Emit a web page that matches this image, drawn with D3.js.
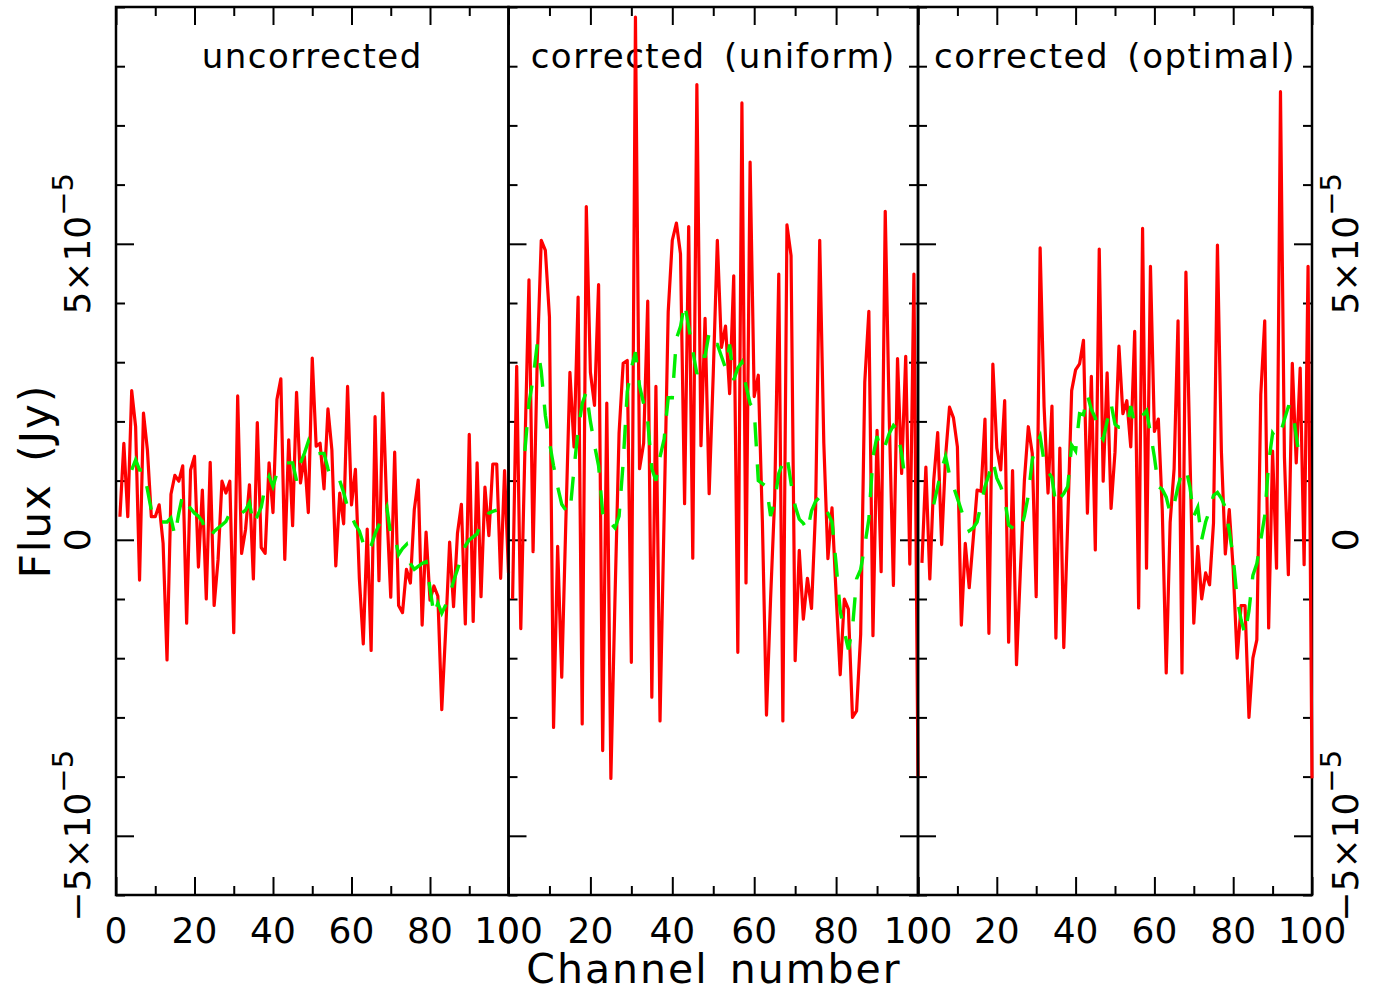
<!DOCTYPE html>
<html>
<head>
<meta charset="utf-8">
<script src="https://cdn.jsdelivr.net/npm/d3@7"></script>
<style>
  body { margin: 0; background: #fff; }
  svg { display: block; }
  text { font-family: "DejaVu Sans", sans-serif; fill: #000; }
</style>
</head>
<body>
<svg id="chart" width="1377" height="989"></svg>
<script>
// flux values are in units of 1e-5 Jy
var channels = d3.range(1, 101)
var smoothChannels = d3.range(4, 98)

var panelTitles = ['uncorrected', 'corrected (uniform)', 'corrected (optimal)']
var xTicksMajor = [0, 20, 40, 60, 80, 100]
var xTicksMinor = [10, 30, 50, 70, 90]
var yTicksMajor = [-5, 0, 5]
var yTicksMinor = [-6, -4, -3, -2, -1, 1, 2, 3, 4, 6, 7, 8, 9]
var yTickLabels = [[5, '5×10', '−5'], [0, '0', ''], [-5, '−5×10', '−5']]

var fluxUncorrected = [
  0.39, 1.63, 0.39, 2.52, 1.91, -0.68, 2.14, 1.52, 0.39, 0.39,
  0.59, -0.06, -2.03, 0.77, 1.09, 0.99, 1.25, -1.41, 1.18, 1.41,
  -0.46, 0.84, -1.0, 1.31, -1.11, -0.34, 0.99, 0.79, 0.99, -1.57,
  2.43, -0.23, 0.17, 0.93, -0.66, 1.98, -0.13, -0.23, 1.3, 0.46,
  2.37, 2.72, -0.33, 1.69, 0.24, 2.49, 0.96, 1.41, 0.46, 3.07,
  1.58, 1.63, 0.86, 2.21, 1.52, -0.44, 0.79, 0.27, 2.59, 0.59,
  1.19, -0.65, -1.76, 0.18, -1.87, 2.08, -0.69, 2.48, 0.51, -0.97,
  1.48, -1.11, -1.23, -0.5, -0.73, 0.51, 1.01, -1.44, 0.13, -1.02,
  -0.78, -0.95, -2.87, -1.52, -0.04, -1.13, 0.11, 0.6, -1.42, 1.78,
  -1.38, 1.3, -0.96, 0.89, 0.07, 1.28, 1.28, -0.65, 1.17, -0.56
]
var fluxUniform = [
  -1.0, 2.93, -1.5, 1.5, 4.39, -0.2, 3.0, 5.06, 4.89, 3.76,
  -3.17, -0.11, -2.32, 0.3, 2.83, 1.57, 4.10, -3.11, 5.63, 2.83,
  2.27, 4.31, -3.56, 2.31, -4.03, -1.0, 1.80, 2.98, 3.03, -2.07,
  8.83, 1.2, 1.63, 4.03, -2.66, 2.59, -3.06, 0.4, 3.85, 5.06,
  5.35, 4.83, 0.61, 5.29, -0.31, 7.69, 1.59, 3.74, 0.78, 2.8,
  5.06, 3.25, 3.61, 2.47, 4.46, -1.90, 7.38, -0.73, 6.38, 2.42,
  2.78, 0.3, -2.96, -1.0, 0.7, 4.49, -3.06, 5.32, 4.8, -2.04,
  -0.18, -1.34, -0.65, -1.16, 0.53, 5.06, 1.63, -0.32, 0.54, -0.92,
  -2.28, -1.0, -1.17, -3.0, -2.89, -1.6, 2.66, 3.86, -1.62, 1.85,
  -0.54, 5.55, 2.0, -0.77, 3.06, 1.12, 3.10, -0.41, 4.49, -4.0
]
var fluxOptimal = [
  -0.39, 1.23, -0.66, 1.01, 1.81, -0.08, 1.41, 2.24, 2.06, 1.57,
  -1.44, -0.06, -0.81, 0.0, 0.84, 0.82, 2.04, -1.58, 2.97, 1.55,
  1.18, 2.35, -1.73, 1.17, -2.11, -0.5, 1.0, 1.91, 1.46, -0.96,
  4.93, 2.25, 0.79, 2.26, -1.66, 1.55, -1.82, 0.3, 2.52, 2.87,
  2.97, 3.37, 0.45, 2.76, -0.17, 4.91, 0.99, 2.82, 0.53, 1.48,
  3.27, 2.13, 2.35, 1.57, 3.52, -1.15, 5.26, -0.48, 4.62, 1.83,
  2.04, 0.5, -2.25, 0.3, 1.2, 3.70, -2.25, 4.52, 1.5, -1.41,
  -0.11, -1.0, -0.56, -0.76, 0.28, 4.98, 1.5, -0.24, 0.51, -0.5,
  -2.0, -1.11, -1.11, -3.0, -2.0, -1.69, 2.45, 3.70, -1.49, 1.5,
  -0.48, 7.57, 1.4, -0.59, 2.98, 1.30, 2.9, -0.42, 4.62, -4.03
]

// smoothed spectra, channels 4..97
var smoothUncorrected = [
  1.18, 1.35, 1.18, 1.18, 0.85, 0.5, 0.35, 0.3, 0.3, 0.3,
  0.37, 0.07, 0.45, 0.76, 0.6, 0.53, 0.45, 0.4, 0.31, 0.1,
  0.05, 0.14, 0.2, 0.25, 0.31, 0.45, 0.51, 0.48, 0.45, 0.5,
  0.63, 0.26, 0.4, 0.55, 0.9, 1.07, 0.9, 1.13, 1.24, 1.3,
  1.3, 1.3, 1.0, 1.3, 1.46, 1.66, 1.45, 1.45, 1.46, 1.46,
  1.2, 1.0, 1.0, 1.0, 0.8, 0.55, 0.4, 0.25, 0.15, -0.06,
  -0.21, -0.1, 0.1, 0.25, 0.4, 0.55, 0.08, 0.08, -0.25, -0.15,
  -0.08, -0.4, -0.5, -0.45, -0.4, -0.37, -0.82, -1.27, -1.07, -1.24,
  -1.1, -0.93, -0.7, -0.5, -0.3, -0.1, 0, 0.05, 0.1, 0.3,
  0.35, 0.45, 0.48, 0.5
]
var smoothUniform = [
  1.5, 2.31, 2.72, 3.3, 2.85, 2.1, 1.65, 1.25, 0.9, 0.6,
  0.5, 0.45, 1.2, 1.85, 2.3, 2.5, 2.0, 1.6, 1.25, 0.45,
  0.25, 0.28, 0.2, 0.4, 1.3, 2.5, 2.9, 3.17, 2.6, 2.3,
  2.0, 1.2, 1.0, 1.4, 1.7, 2.4, 2.4, 3.4, 3.6, 4.0,
  3.6, 3.2, 2.8, 3.1, 3.1, 3.5, 3.3, 3.3, 3.1, 2.9,
  3.3, 2.7, 2.9, 3.0, 2.6, 2.3, 2.2, 1.0, 0.95, 0.9,
  0.4, 0.65, 1.12, 1.3, 1.42, 0.95, 0.57, 0.35, 0.28, 0.15,
  0.49, 0.65, 0.72, 0.6, 0.45, 0.3, -0.4, -1.2, -1.55, -1.85,
  -1.5, -0.66, -0.5, -0.1, 0.35, 1.4, 1.75, 1.5, 1.6, 1.8,
  1.93, 1.85, 1.45, 0.95
]
var smoothOptimal = [
  0.6, 0.9, 1.2, 1.41, 1.1, 0.9, 0.7, 0.5, 0.3, 0.15,
  0.2, 0.3, 0.6, 0.9, 1.1, 1.34, 1.04, 0.9, 0.7, 0.25,
  0.2, 0.15, 0.15, 0.4, 0.75, 1.35, 1.6, 1.75, 1.32, 1.15,
  1.05, 0.59, 0.7, 0.78, 0.9, 1.6, 1.5, 2.13, 2.11, 2.45,
  2.2, 2.06, 1.8, 1.7, 2.0, 2.3, 1.95, 1.9, 1.9, 1.89,
  2.26, 1.95, 2.0, 2.1, 2.18, 1.8, 1.4, 0.9, 0.85, 0.72,
  0.45, 0.6, 0.9, 1.15, 1.2, 0.9, 0.4, 0.55, 0.0, 0.3,
  0.5, 0.75, 0.8, 0.7, 0.55, 0.15, -0.3, -1.0, -1.35, -1.6,
  -1.2, -0.6, -0.4, 0.0, 0.4, 1.3, 1.8, 1.7, 1.8, 2.03,
  2.25, 2.24, 1.75, 1.3
]

var rawSeries = [fluxUncorrected, fluxUniform, fluxOptimal]
var smoothSeries = [smoothUncorrected, smoothUniform, smoothOptimal]

var svg = d3.select('#chart')
var edges = [116, 508.5, 918, 1312]
var plotTop = 7
var plotBottom = 895

var y = d3.scaleLinear().domain([-6, 9]).range([plotBottom, plotTop])

var tickLayer = function (g, axis, values, size) {
  g.call(axis.tickValues(values).tickSize(-size).tickFormat(''))
  g.select('.domain').remove()
  g.selectAll('line').attr('stroke', '#000').attr('stroke-width', 2)
}

panelTitles.forEach((title, i) => {
  var x = d3.scaleLinear().domain([0, 100]).range([edges[i], edges[i + 1]])
  var panel = svg.append('g').attr('class', 'panel')

  panel.append('text')
       .attr('x', (edges[i] + edges[i + 1]) / 2)
       .attr('y', 68)
       .attr('text-anchor', 'middle')
       .attr('font-size', 34)
       .attr('letter-spacing', 1.5)
       .attr('word-spacing', 6)
       .text(title)

  // ticks on all sides (the first panel has none on its right edge)
  var sides = [
    [() => d3.axisBottom(x), 'translate(0,' + plotBottom + ')', xTicksMajor, xTicksMinor],
    [() => d3.axisTop(x), 'translate(0,' + plotTop + ')', xTicksMajor, xTicksMinor],
    [() => d3.axisLeft(y), 'translate(' + edges[i] + ',0)', yTicksMajor, yTicksMinor]
  ]
  if (i > 0) sides.push([() => d3.axisRight(y), 'translate(' + edges[i + 1] + ',0)', yTicksMajor, yTicksMinor])
  sides.forEach(s => {
    panel.append('g').attr('transform', s[1]).call(g => tickLayer(g, s[0](), s[2], 18))
    panel.append('g').attr('transform', s[1]).call(g => tickLayer(g, s[0](), s[3], 9))
  })

  panel.append('rect')
       .attr('x', edges[i])
       .attr('y', plotTop)
       .attr('width', edges[i + 1] - edges[i])
       .attr('height', plotBottom - plotTop)
       .attr('fill', 'none')
       .attr('stroke', '#000')
       .attr('stroke-width', 2.5)

  panel.selectAll('text.xlab')
       .data(xTicksMajor)
       .join('text')
       .attr('class', 'xlab')
       .attr('x', d => x(d))
       .attr('y', 943)
       .attr('text-anchor', 'middle')
       .attr('font-size', 36)
       .text(d => d)

  var line = d3.line().x(d => x(d[0])).y(d => y(d[1]))

  panel.append('path')
       .datum(channels.map((c, k) => [c, rawSeries[i][k]]))
       .attr('d', line)
       .attr('fill', 'none')
       .attr('stroke', '#ff0000')
       .attr('stroke-width', 3.2)
       .attr('stroke-linejoin', 'round')

  panel.append('path')
       .datum(smoothChannels.map((c, k) => [c, smoothSeries[i][k]]))
       .attr('d', line)
       .attr('fill', 'none')
       .attr('stroke', '#00ee00')
       .attr('stroke-width', 3.4)
       .attr('stroke-dasharray', '24,18')
})

// y tick labels, rotated, on the outer left and right
var yLabel = function (xBase) {
  yTickLabels.forEach(d => {
    var t = svg.append('text')
               .attr('transform', 'translate(' + xBase + ',' + y(d[0]) + ') rotate(-90)')
               .attr('text-anchor', 'middle')
               .attr('font-size', 36)
    t.append('tspan').text(d[1])
    if (d[2]) t.append('tspan').attr('dy', -17).attr('font-size', 29).text(d[2])
  })
}
yLabel(90)
yLabel(1358)

svg.append('text')
   .attr('transform', 'translate(50,481) rotate(-90)')
   .attr('text-anchor', 'middle')
   .attr('font-size', 42)
   .attr('letter-spacing', 2)
   .attr('word-spacing', 6)
   .text('Flux (Jy)')

svg.append('text')
   .attr('x', 714)
   .attr('y', 983)
   .attr('text-anchor', 'middle')
   .attr('font-size', 41)
   .attr('letter-spacing', 2)
   .attr('word-spacing', 6)
   .text('Channel number')
</script>
</body>
</html>
